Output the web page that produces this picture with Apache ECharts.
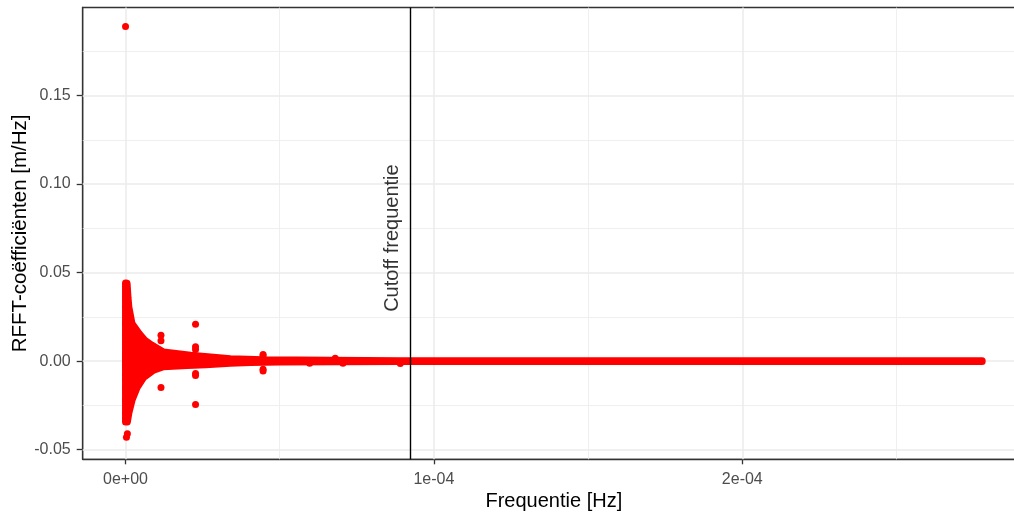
<!DOCTYPE html>
<html>
<head>
<meta charset="utf-8">
<script src="https://cdn.jsdelivr.net/npm/echarts@6/dist/echarts.min.js"></script>
<style>
html,body{margin:0;padding:0;background:#fff;}
#chart{width:1014px;height:516px;}
</style>
</head>
<body>
<div id="chart"></div>
<script>
// ---- data ----
// envelope of the dense point cloud (centres of the outermost points)
const upperX = [0, 5e-7, 8e-7, 1.07e-6, 2.1e-6, 4.4e-6, 6.2e-6, 8.5e-6, 1.23e-5, 2.11e-5, 2.76e-5, 3.40e-5, 4.47e-5, 6.64e-5, 8.91e-5, 2.7778e-4];
const upperY = [0.0442, 0.0440, 0.0360, 0.0307, 0.0212, 0.0156, 0.0119, 0.0091, 0.0052, 0.0033, 0.0024, 0.0014, 0.0008, 0.0005, 0.0003, 0.0002];
const lowerX = [0, 6e-7, 1.07e-6, 2.1e-6, 3.8e-6, 5.9e-6, 9.1e-6, 1.23e-5, 2.0e-5, 2.6e-5, 3.40e-5, 4.05e-5, 5.02e-5, 8.91e-5, 2.7778e-4];
const lowerY = [-0.0343, -0.0343, -0.0294, -0.0221, -0.0147, -0.0091, -0.0051, -0.0031, -0.0024, -0.0020, -0.0012, -0.0008, -0.0004, -0.0002, -0.0002];
// isolated points standing out of the cloud
const outlierX = [0, 6e-7, 3e-7, 1.15e-5, 1.15e-5, 1.15e-5, 2.27e-5, 2.27e-5, 2.27e-5, 2.27e-5, 2.27e-5, 2.27e-5, 4.46e-5, 4.46e-5, 4.46e-5, 4.46e-5, 5.97e-5, 6.8e-5, 7.05e-5, 8.91e-5];
const outlierY = [0.189, -0.0410, -0.0430, 0.0147, 0.0115, -0.0149, 0.0208, 0.0081, 0.0066, -0.0070, -0.0081, -0.0245, 0.0038, 0.0030, -0.0055, -0.0045, -0.0012, 0.0017, -0.0012, -0.0013];
const cutoffFreq = 9.245e-5;
const cutoffLabel = 'Cutoff frequentie';
const cutoffLabelPos = [8.66e-5, 0.0695];
// axes
const xTickValues = [0, 1e-4, 2e-4];
const xTickLabels = ['0e+00', '1e-04', '2e-04'];
const xMinorValues = [5e-5, 1.5e-4, 2.5e-4];
const yTickValues = [-0.05, 0, 0.05, 0.10, 0.15];
const yTickLabels = ['-0.05', '0.00', '0.05', '0.10', '0.15'];
const yMinorValues = [-0.025, 0.025, 0.075, 0.125, 0.175];
const xTitle = 'Frequentie [Hz]';
const yTitle = 'RFFT-coëfficiënten [m/Hz]';

const upperPts = upperX.map((x, i) => [x, upperY[i]]);
const lowerPts = lowerX.map((x, i) => [x, lowerY[i]]);
const outliers = outlierX.map((x, i) => [x, outlierY[i]]);

const FONT = '"Liberation Sans", Arial, sans-serif';
const RED = '#FF0000';

function labelFor(values, labels) {
  return function (v) {
    for (let i = 0; i < values.length; i++) {
      if (Math.abs(values[i] - v) < 1e-12) return labels[i];
    }
    return '';
  };
}

const gridLines = [];
xTickValues.forEach(v => gridLines.push({xAxis: v, lineStyle: {color: '#EBEBEB', width: 1.5, type: 'solid'}}));
xMinorValues.forEach(v => gridLines.push({xAxis: v, lineStyle: {color: '#EBEBEB', width: 0.8, type: 'solid'}}));
yTickValues.forEach(v => gridLines.push({yAxis: v, lineStyle: {color: '#EBEBEB', width: 1.5, type: 'solid'}}));
yMinorValues.forEach(v => gridLines.push({yAxis: v, lineStyle: {color: '#EBEBEB', width: 0.8, type: 'solid'}}));

const chart = echarts.init(document.getElementById('chart'), null, {renderer: 'canvas'});
chart.setOption({
  animation: false,
  backgroundColor: '#FFFFFF',
  textStyle: {fontFamily: FONT},
  grid: {left: 82.7, top: 7.5, right: -11, bottom: 56.7, containLabel: false, outerBoundsMode: 'none',
         show: true, borderColor: '#333333', borderWidth: 1.3, backgroundColor: 'transparent'},
  xAxis: {
    type: 'value', min: -1.3889e-5, max: 2.9167e-4,
    axisLine: {show: true, onZero: false, lineStyle: {color: '#333333', width: 1.3}},
    axisTick: {show: true, length: 5, customValues: xTickValues, lineStyle: {color: '#333333', width: 1.3}},
    axisLabel: {show: true, customValues: xTickValues, formatter: labelFor(xTickValues, xTickLabels), color: '#4D4D4D', fontSize: 16, fontFamily: FONT, margin: 12},
    splitLine: {show: false},
    name: xTitle, nameLocation: 'middle', nameGap: 32, nameMoveOverlap: false,
    nameTextStyle: {color: '#000000', fontSize: 20, fontFamily: FONT}
  },
  yAxis: {
    type: 'value', min: -0.0554, max: 0.1997,
    axisLine: {show: true, onZero: false, lineStyle: {color: '#333333', width: 1.3}},
    axisTick: {show: true, length: 6, customValues: yTickValues, lineStyle: {color: '#333333', width: 1.3}},
    axisLabel: {show: true, customValues: yTickValues, formatter: labelFor(yTickValues, yTickLabels), color: '#4D4D4D', fontSize: 16, fontFamily: FONT, margin: 12},
    splitLine: {show: false},
    name: yTitle, nameLocation: 'middle', nameGap: 52, nameMoveOverlap: false,
    nameTextStyle: {color: '#000000', fontSize: 20.5, fontFamily: FONT}
  },
  series: [
    {
      name: 'grid', type: 'line', data: [], z: 1, silent: true,
      markLine: {silent: true, z: 1, precision: 12, symbol: ['none', 'none'], label: {show: false}, animation: false, data: gridLines}
    },
    {
      name: 'cloud', type: 'custom', z: 3, clip: false, silent: true,
      data: [[0, 0]],
      renderItem: function (params, api) {
        const pts = [];
        upperPts.forEach(p => pts.push(api.coord(p)));
        for (let i = lowerPts.length - 1; i >= 0; i--) pts.push(api.coord(lowerPts[i]));
        return {
          type: 'polygon',
          shape: {points: pts},
          style: {fill: RED, stroke: RED, lineWidth: 7, lineJoin: 'round'}
        };
      }
    },
    {
      name: 'outliers', type: 'scatter', z: 4, silent: true,
      symbol: 'circle', symbolSize: 7,
      itemStyle: {color: RED, opacity: 1},
      data: outliers
    },
    {
      name: 'cutoff', type: 'scatter', z: 6, silent: true,
      symbolSize: 1, itemStyle: {color: 'rgba(0,0,0,0)'},
      data: [cutoffLabelPos],
      label: {show: true, position: 'inside', rotate: 90, formatter: cutoffLabel, color: '#000000', fontSize: 20, fontFamily: FONT},
      markLine: {silent: true, z: 6, precision: 12, symbol: ['none', 'none'], label: {show: false}, animation: false,
        lineStyle: {color: '#000000', width: 1.4, type: 'solid'},
        data: [{xAxis: cutoffFreq}]}
    }
  ]
});
</script>
</body>
</html>
